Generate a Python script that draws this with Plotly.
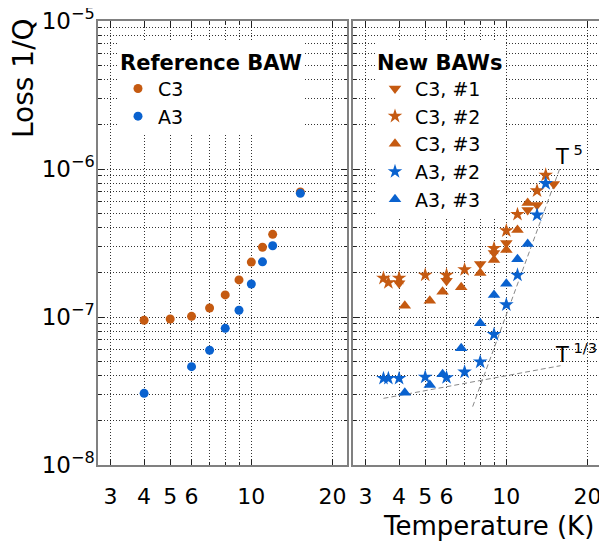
import plotly.graph_objects as go

# ---------------- data ----------------
ref_T_C3 = [4, 5, 6, 7, 8, 9, 10, 11, 12, 15.2]
ref_C3 = [9.5e-8, 9.7e-8, 1.01e-7, 1.15e-7, 1.41e-7, 1.78e-7, 2.35e-7, 2.96e-7, 3.62e-7, 7.0e-7]
ref_T_A3 = [4, 6, 7, 8, 9, 10, 11, 12, 15.2]
ref_A3 = [3.05e-8, 4.62e-8, 5.96e-8, 8.38e-8, 1.11e-7, 1.67e-7, 2.36e-7, 3.03e-7, 6.85e-7]

c3_1_T = [4, 6, 8, 9, 10, 12, 13, 15]
c3_1 = [1.69e-7, 1.76e-7, 2.28e-7, 2.71e-7, 3.16e-7, 5.28e-7, 5.71e-7, 7.92e-7]
c3_2_T = [3.5, 3.65, 4, 5, 6, 7, 9, 10, 11, 13, 14]
c3_2 = [1.83e-7, 1.71e-7, 1.83e-7, 1.92e-7, 1.92e-7, 2.09e-7, 2.91e-7, 3.83e-7, 4.94e-7, 7.13e-7, 9.1e-7]
c3_3_T = [4.2, 5.2, 5.8, 6.8, 8, 9, 10, 11, 12]
c3_3 = [1.19e-7, 1.29e-7, 1.48e-7, 1.59e-7, 1.98e-7, 2.43e-7, 2.84e-7, 3.87e-7, 5.9e-7]
a3_2_T = [3.5, 3.65, 4, 5, 6, 7, 8, 9, 10, 11, 13, 14]
a3_2 = [3.85e-8, 3.85e-8, 3.85e-8, 3.93e-8, 3.9e-8, 4.25e-8, 4.97e-8, 7.62e-8, 1.21e-7, 1.92e-7, 4.89e-7, 7.98e-7]
a3_3_T = [4.2, 5.2, 5.8, 6.8, 8, 9, 10, 11, 12]
a3_3 = [3.08e-8, 3.47e-8, 4.11e-8, 6.15e-8, 9.07e-8, 1.41e-7, 1.68e-7, 2.46e-7, 3.11e-7]

# power-law guide lines (end points)
t5_T = [7.5, 15.8]
t5_loss = [2.48e-8, 1.01e-6]
t13_T = [3.5, 15.9]
t13_loss = [2.82e-8, 4.69e-8]

x_tickvals = [3, 4, 5, 6, 10, 20]
x_ticktext = ["3", "4", "5", "6", "10", "20"]
x_minor = [7, 8, 9]
y_tickvals = [1e-8, 1e-7, 1e-6, 1e-5]
y_ticktext = ["10<sup>\u22128</sup>", "10<sup>\u22127</sup>", "10<sup>\u22126</sup>", "10<sup>\u22125</sup>"]
y_minor = [m * 10.0 ** e for e in (-8, -7, -6) for m in range(2, 10)]

ORANGE = "#C55A11"
BLUE = "#0A62CF"
FONT = "DejaVu Sans, Liberation Sans, Arial, sans-serif"

fig = go.Figure()

# guide lines (right panel)
fig.add_trace(go.Scatter(x=t5_T, y=t5_loss, mode="lines", xaxis="x2", yaxis="y2",
                         line=dict(color="#888888", width=1, dash="5px,3px"), showlegend=False, hoverinfo="skip"))
fig.add_trace(go.Scatter(x=t13_T, y=t13_loss, mode="lines", xaxis="x2", yaxis="y2",
                         line=dict(color="#888888", width=1, dash="5px,3px"), showlegend=False, hoverinfo="skip"))

# left panel
fig.add_trace(go.Scatter(x=ref_T_C3, y=ref_C3, mode="markers", name="C3", legend="legend",
                         marker=dict(symbol="circle", size=9, color=ORANGE)))
fig.add_trace(go.Scatter(x=ref_T_A3, y=ref_A3, mode="markers", name="A3", legend="legend",
                         marker=dict(symbol="circle", size=9, color=BLUE)))

# right panel
tri = 11
star = 11
fig.add_trace(go.Scatter(x=c3_1_T, y=c3_1, mode="markers", name="C3, #1", xaxis="x2", yaxis="y2", legend="legend2",
                         marker=dict(symbol="triangle-down", size=tri, color=ORANGE)))
fig.add_trace(go.Scatter(x=c3_2_T, y=c3_2, mode="markers", name="C3, #2", xaxis="x2", yaxis="y2", legend="legend2",
                         marker=dict(symbol="star", size=star, color=ORANGE)))
fig.add_trace(go.Scatter(x=c3_3_T, y=c3_3, mode="markers", name="C3, #3", xaxis="x2", yaxis="y2", legend="legend2",
                         marker=dict(symbol="triangle-up", size=tri, color=ORANGE)))
fig.add_trace(go.Scatter(x=a3_2_T, y=a3_2, mode="markers", name="A3, #2", xaxis="x2", yaxis="y2", legend="legend2",
                         marker=dict(symbol="star", size=star, color=BLUE)))
fig.add_trace(go.Scatter(x=a3_3_T, y=a3_3, mode="markers", name="A3, #3", xaxis="x2", yaxis="y2", legend="legend2",
                         marker=dict(symbol="triangle-up", size=tri, color=BLUE)))

grid_col = "rgba(0,0,0,0.8)"
GD = "1px,2px"
xcommon = dict(type="log", range=[0.431, 1.355], tickvals=x_tickvals, ticktext=x_ticktext,
               ticks="inside", ticklen=6, tickcolor="#222", showline=True, linecolor="#808080",
               linewidth=1.5, mirror="ticks", showgrid=True, gridcolor=grid_col, griddash=GD,
               gridwidth=1, tickfont=dict(size=22, color="black", family=FONT),
               ticklabelstandoff=11, zeroline=False, automargin=False, ticklabeloverflow="allow",
               minor=dict(tickvals=x_minor, ticks="inside", ticklen=3, tickcolor="#222",
                          showgrid=True, gridcolor=grid_col, griddash=GD, gridwidth=1))
ycommon = dict(type="log", range=[-8, -5], tickvals=y_tickvals, ticktext=y_ticktext,
               ticks="inside", ticklen=6, tickcolor="#222", showline=True, linecolor="#808080",
               linewidth=1.5, mirror="ticks", showgrid=True, gridcolor=grid_col, griddash=GD,
               gridwidth=1, tickfont=dict(size=23, color="black", family=FONT), zeroline=False,
               automargin=False, ticklabeloverflow="allow",
               minor=dict(tickvals=y_minor, ticks="inside", ticklen=3, tickcolor="#222",
                          showgrid=True, gridcolor=grid_col, griddash=GD, gridwidth=1))

# page body has an 8px offset, so the figure is 8px smaller and margins shifted
fig.update_layout(
    width=599, height=540,
    margin=dict(l=90, r=5, t=13, b=83),
    paper_bgcolor="white", plot_bgcolor="white",
    font=dict(family=FONT, color="black"),
    xaxis=dict(domain=[0, 249 / 504], anchor="y", **xcommon),
    xaxis2=dict(domain=[255 / 504, 1], anchor="y2", **xcommon),
    yaxis=dict(domain=[0, 1], anchor="x", ticklabelstandoff=-3, **ycommon),
    yaxis2=dict(domain=[0, 1], anchor="x2", matches="y", showticklabels=False, **ycommon),
    legend=dict(x=(118 - 98) / 504, y=0.952, xanchor="left", yanchor="top",
                bgcolor="white", borderwidth=0,
                title=dict(text="<b>Reference BAW</b>", font=dict(size=21, family=FONT)),
                font=dict(size=19, family=FONT), tracegroupgap=0, itemsizing="trace"),
    legend2=dict(x=(375 - 98) / 504, y=0.952, xanchor="left", yanchor="top",
                 bgcolor="white", borderwidth=0,
                 title=dict(text="<b>New BAWs</b>", font=dict(size=21, family=FONT)),
                 font=dict(size=19, family=FONT), tracegroupgap=0, itemsizing="trace"),
    showlegend=True,
    annotations=[
        dict(text="Loss 1/Q", xref="paper", yref="paper", x=(23 - 98) / 504, y=1 - (78 - 21) / 444,
             textangle=-90, showarrow=False, font=dict(size=28, family=FONT), xanchor="center", yanchor="middle"),
        dict(text="Temperature (K)", xref="paper", yref="paper", x=(488.5 - 98) / 504, y=1 - (526 - 21) / 444,
             showarrow=False, font=dict(size=26, family=FONT), xanchor="center", yanchor="middle"),
        dict(text="T<sup>\u00a05</sup>", xref="x2", yref="y2", x=1.172, y=-5.905, showarrow=False,
             xanchor="left", yanchor="middle", font=dict(size=21, family=FONT)),
        dict(text="T<sup>\u00a01/3</sup>", xref="x2", yref="y2", x=1.172, y=-7.243, showarrow=False,
             xanchor="left", yanchor="middle", font=dict(size=21, family=FONT)),
    ],
)

fig.write_html("out.html")
